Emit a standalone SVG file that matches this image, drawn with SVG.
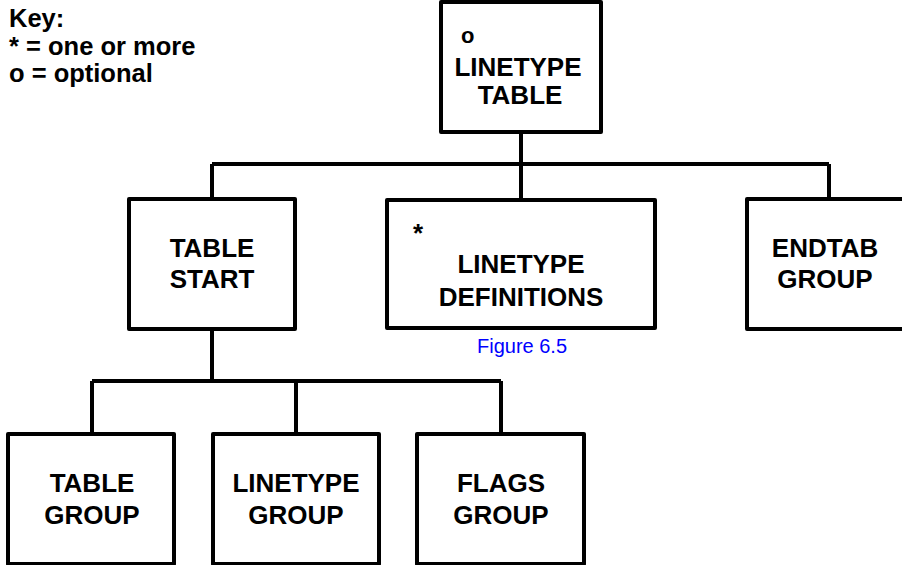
<svg xmlns="http://www.w3.org/2000/svg" width="902" height="565" viewBox="0 0 902 565">
<style>
.box{fill:#fff;stroke:#000;stroke-width:4;stroke-linejoin:round}
.t{font-family:"Liberation Sans",Arial,sans-serif;font-weight:bold;font-size:26px;fill:#000}
.k{font-family:"Liberation Sans",Arial,sans-serif;font-weight:bold;font-size:25.5px;fill:#000}
.c{text-anchor:middle}
.wire{fill:none;stroke:#000;stroke-width:4;stroke-linejoin:round}
.cap{font-family:"Liberation Sans",Arial,sans-serif;font-size:20px;fill:#0000ff;text-anchor:middle}
</style>
<rect width="902" height="565" fill="#fff"/>
<g id="key">
<text class="k" x="9" y="27">Key:</text>
<text class="k" x="9" y="55">* = one or more</text>
<text class="k" x="9" y="82">o = optional</text>
</g>
<g id="connectors">
<path class="wire" d="M521 132 V164 M212 164 H829 M212 164 V199 M521 164 V200 M829 164 V199"/>
<path class="wire" d="M212 329 V381 M92 381 H501 M92 381 V434 M296 381 V434 M501 381 V434"/>
</g>
<g id="linetype-table">
<rect class="box" x="441" y="2" width="160" height="130"/>
<text class="t" x="461" y="43" style="font-size:22px">o</text>
<text class="t c" x="518" y="76">LINETYPE</text>
<text class="t c" x="520" y="104">TABLE</text>
</g>
<g id="table-start">
<rect class="box" x="129" y="199" width="166" height="130"/>
<text class="t c" x="212" y="257">TABLE</text>
<text class="t c" x="212" y="288">START</text>
</g>
<g id="linetype-definitions">
<rect class="box" x="387" y="200" width="268" height="128"/>
<text class="t" x="413" y="242">*</text>
<text class="t c" x="521" y="273">LINETYPE</text>
<text class="t c" x="521" y="306">DEFINITIONS</text>
</g>
<g id="endtab-group">
<rect class="box" x="747" y="199" width="166" height="130"/>
<text class="t c" x="825" y="257">ENDTAB</text>
<text class="t c" x="825" y="288">GROUP</text>
</g>
<g id="caption">
<text class="cap" x="522" y="353">Figure 6.5</text>
</g>
<g id="table-group">
<rect class="box" x="8" y="434" width="166" height="130"/>
<text class="t c" x="92" y="492">TABLE</text>
<text class="t c" x="92" y="524">GROUP</text>
</g>
<g id="linetype-group">
<rect class="box" x="213" y="434" width="166" height="130"/>
<text class="t c" x="296" y="492">LINETYPE</text>
<text class="t c" x="296" y="524">GROUP</text>
</g>
<g id="flags-group">
<rect class="box" x="417" y="434" width="167" height="130"/>
<text class="t c" x="501" y="492">FLAGS</text>
<text class="t c" x="501" y="524">GROUP</text>
</g>
</svg>
